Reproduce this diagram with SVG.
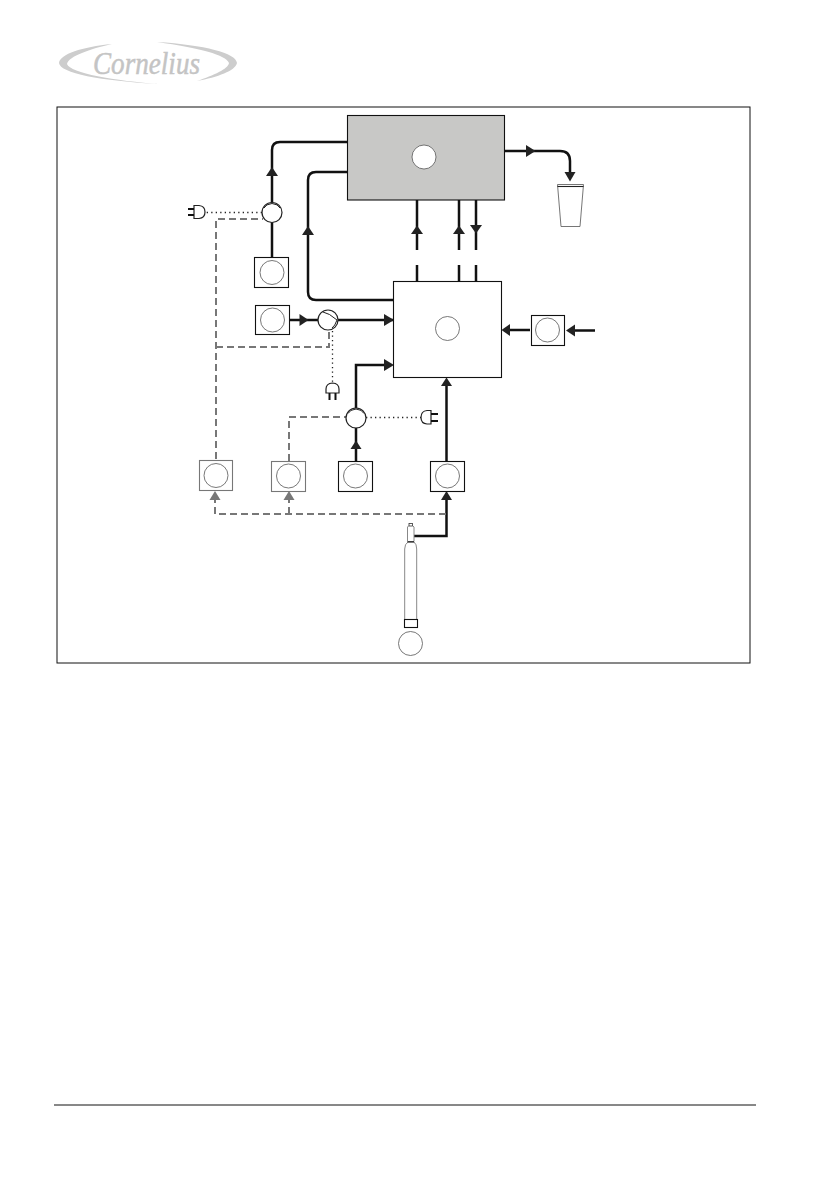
<svg xmlns="http://www.w3.org/2000/svg" width="838" height="1190" viewBox="0 0 838 1190">
<style>
.l{fill:none;stroke:#111;stroke-width:2.5}
.d{fill:none;stroke:#777;stroke-width:2;stroke-dasharray:7 4}
.o{fill:none;stroke:#222;stroke-width:1.3;stroke-dasharray:1.3 3.2}
.b{fill:#fff;stroke:#111;stroke-width:1.1}
.g{fill:#fff;stroke:#777;stroke-width:1.1}
.c{fill:#fff;stroke:#555;stroke-width:.8}
.a{fill:#222}
.ag{fill:#777}
.p{fill:#fff;stroke:#222;stroke-width:1.2}
.r{fill:none;stroke:#222;stroke-width:1}
.pr{fill:none;stroke:#111;stroke-width:2}
</style>
<rect width="838" height="1190" fill="#fff"/>
<g id="logo">
<path d="M112 44C82 47 60 54 59 63C60 73 100 81 160 84C115 81 70 73 67 64C69 56 90 49 112 44Z" fill="#cdcdcd"/>
<path d="M157 42C205 45 236 53 237 63C235 71 218 77 197 81C214 75 228 69 229 63C226 55 200 48 157 42Z" fill="#cdcdcd"/>
<text x="93" y="74" font-family="'Liberation Serif',serif" font-style="italic" font-size="32" textLength="107" lengthAdjust="spacingAndGlyphs" fill="#c4c4c4" stroke="#c4c4c4" stroke-width=".5">Cornelius</text>
</g>
<rect id="frame" x="57" y="107" width="693" height="556" fill="none" stroke="#111" stroke-width="1"/>
<g id="connectors">
<path class="l" d="M272 257V150Q272 142 280 142H347"/>
<path class="l" d="M393 300H316Q308 300 308 292V180Q308 172 316 172H347"/>
<path class="l" d="M289 320H318M338 320H393"/>
<path class="l" d="M417 200V250M417 265V281M459 200V250M459 265V281M476 200V250M476 265V281"/>
<path class="l" d="M504 151H560Q570 151 570 161V175"/>
<path class="l" d="M530 330H508M595 330.500H572"/>
<path class="l" d="M356 461V408M356 408V365H388"/>
<path class="l" d="M446.500 461V383"/>
<path class="l" d="M414 536H446.500V497"/>
<path class="d" d="M216 459V219H263"/>
<path class="d" d="M216 347H329V331"/>
<path class="d" d="M289 461V417H346"/>
<path class="d" d="M446 514H215V498M289 514V498"/>
<path class="o" d="M262 212.500H206"/>
<path class="o" d="M332.500 331V383"/>
<path class="o" d="M366 417.500H421"/>
<g id="arrowheads">
<path class="a" d="M272 167L278 176H266Z"/>
<path class="a" d="M308 226L314 235H302Z"/>
<path class="a" d="M308.500 320L299.500 314V326Z"/>
<path class="a" d="M394 320L384 314V326Z"/>
<path class="a" d="M394 365L384 359V371Z"/>
<path class="a" d="M417 225.500L423 234H411Z"/>
<path class="a" d="M459 225.500L465 234H453Z"/>
<path class="a" d="M476 233.500L470 225H482Z"/>
<path class="a" d="M535.500 151L526 145V157Z"/>
<path class="a" d="M570 181.500L564.500 172H575.500Z"/>
<path class="a" d="M501.500 330L510 324V336Z"/>
<path class="a" d="M566 330.500L575 324.500V336.500Z"/>
<path class="a" d="M356 440.500L361.500 449H350.500Z"/>
<path class="a" d="M446.500 377.500L452 386H441Z"/>
<path class="a" d="M446.500 491L452 500H441Z"/>
<path class="ag" d="M215 491L220.500 500H209.500Z"/>
<path class="ag" d="M289 491L294.500 500H283.500Z"/>
</g>
</g>
<g id="tank">
<rect x="347.500" y="115.500" width="157" height="84.500" fill="#c8c8c6" stroke="#111" stroke-width="1.1"/>
<circle class="c" cx="424" cy="157" r="12"/>
</g>
<g id="mixer">
<rect class="b" x="393.500" y="281.500" width="108" height="96"/>
<circle class="c" cx="447.500" cy="328.500" r="12"/>
</g>
<g id="cup">
<path d="M557.500 184.500H583.500L580 226.500H561Z" fill="#fff" stroke="#666" stroke-width=".9"/>
<path d="M557.500 186.500H583.500" stroke="#222" stroke-width="1.1"/>
</g>
<g id="pump1"><circle class="p" cx="272" cy="212.500" r="10"/><path class="r" d="M264 208Q266 204 272 203.500Q278 204 280 208"/></g>
<g id="pump2"><circle class="p" cx="328" cy="320" r="10"/><path class="r" d="M323 312Q329 313 337 320Q335 326 332 328"/></g>
<g id="pump3"><circle class="p" cx="356" cy="418" r="10"/><path class="r" d="M348 413.500Q350 409.500 356 409Q362 409.500 364 413.500"/></g>
<g id="plug1"><path class="p" d="M194 205.500H199Q205 206 205 212Q205 218 199 218.500H194Z"/><path class="pr" d="M188 209H194M188 215H194"/></g>
<g id="plug2"><path class="p" d="M326 393V389Q326 383.500 332.500 383Q339 383.500 339 389V393Z"/><path class="pr" d="M329.500 393V400M335.500 393V400"/></g>
<g id="plug3"><path class="p" d="M431 410.500H427Q421 411 421 417.500Q421 423.500 427 424H431Z"/><path class="pr" d="M431 414H438M431 421H438"/></g>
<g id="s1"><rect class="b" x="254.500" y="257.500" width="34" height="30"/><circle class="c" cx="272" cy="272.500" r="12"/></g>
<g id="s2"><rect class="b" x="255.500" y="305.500" width="34" height="29"/><circle class="c" cx="272.500" cy="320" r="12"/></g>
<g id="s3"><rect class="b" x="531.500" y="315.500" width="33" height="30"/><circle class="c" cx="547.500" cy="330" r="12"/></g>
<g id="s4"><rect class="g" x="199.500" y="460.500" width="33" height="30"/><circle class="c" cx="216" cy="475.500" r="12"/></g>
<g id="s5"><rect class="g" x="271.500" y="461.500" width="34" height="30"/><circle class="c" cx="288.500" cy="476" r="12"/></g>
<g id="s6"><rect class="b" x="338.500" y="461.500" width="34" height="30"/><circle class="c" cx="355.500" cy="476" r="12"/></g>
<g id="s7"><rect class="b" x="430.500" y="461.500" width="34" height="30"/><circle class="c" cx="447.500" cy="476" r="12"/></g>
<g id="cylinder">
<path d="M404.700 619V549Q404.700 544 408 542H414Q416.700 544 416.700 549V619" fill="#fff" stroke="#888" stroke-width="1"/>
<path d="M407.500 541.500V527L409 525.500H412.500L414 527V541.500" fill="#fff" stroke="#888" stroke-width="1"/>
<rect x="409" y="523.500" width="3.500" height="2.500" fill="#fff" stroke="#333" stroke-width=".8"/>
<path d="M407.500 541.800H414" stroke="#111" stroke-width="1.2"/>
<rect class="b" x="404.500" y="619.500" width="13" height="8"/>
<circle class="c" cx="410.500" cy="643.500" r="12"/>
</g>
<path id="footer" d="M54 1105H756" stroke="#111" stroke-width="1"/>
</svg>
